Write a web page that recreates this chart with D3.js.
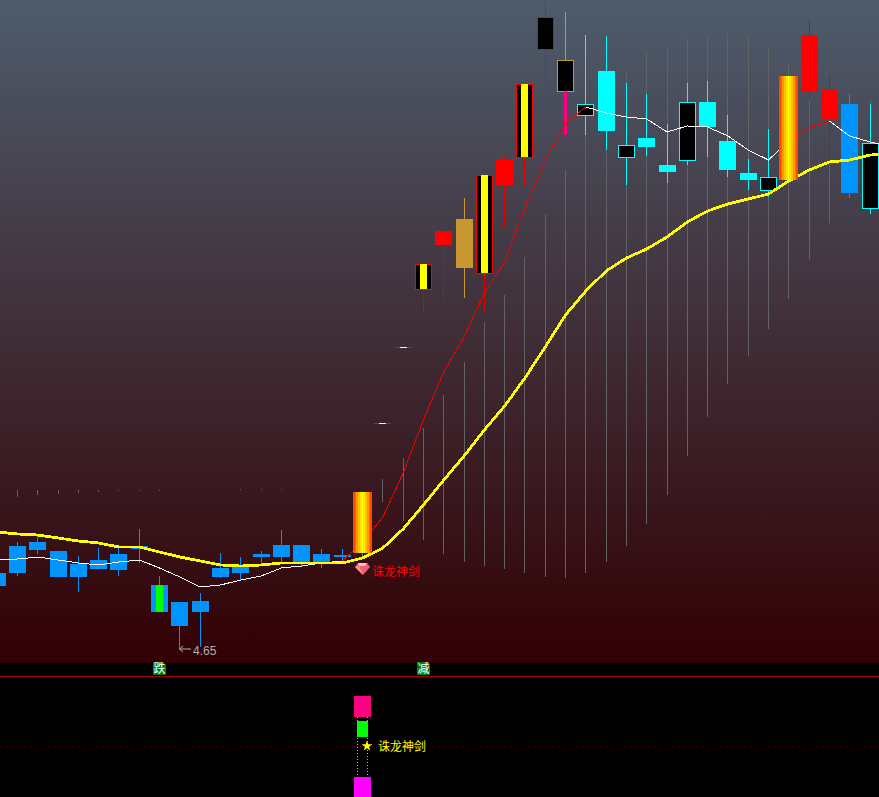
<!DOCTYPE html>
<html>
<head>
<meta charset="utf-8">
<script src="https://d3js.org/d3.v7.min.js"></script>
<style>
  html, body { margin: 0; padding: 0; background: #000; overflow: hidden; }
  svg { display: block; }
</style>
</head>
<body>
<div id="chart"></div>
<script>
// candle values, one entry per bar
const bodyTop = [5.41,5.68,5.72,5.63,5.50,5.54,5.60,5.68,5.29,5.12,5.13,5.46,5.48,5.60,5.69,5.69,5.60,5.59,6.22,6.91,7.67,8.50,8.83,8.95,9.39,9.55,10.30,10.97,10.54,10.10,10.43,9.69,9.76,9.49,10.12,10.12,9.73,9.41,9.37,10.38,10.79,10.24,10.10,9.71];
const bodyBottom = [5.28,5.41,5.64,5.37,5.37,5.45,5.44,5.65,5.02,4.88,5.02,5.37,5.41,5.57,5.57,5.51,5.52,5.57,5.61,6.91,7.67,8.25,8.69,8.46,8.41,9.29,9.57,10.65,10.23,9.99,9.83,9.57,9.67,9.42,9.54,9.87,9.44,9.34,9.24,9.34,10.23,9.95,9.21,9.06];
const highs = [5.41,5.72,5.78,5.63,5.58,5.66,5.66,5.85,5.38,5.12,5.21,5.61,5.57,5.63,5.84,5.69,5.65,5.65,6.22,6.91,7.67,8.50,9.15,9.16,9.39,9.58,10.30,11.13,11.02,10.79,10.78,10.31,10.20,9.90,10.31,10.33,9.99,9.55,9.85,10.38,10.94,10.39,10.20,10.10];
const lows = [5.28,5.38,5.60,5.37,5.22,5.45,5.38,5.51,5.02,4.65,4.67,5.36,5.34,5.49,5.52,5.48,5.46,5.53,5.57,6.91,7.67,8.02,8.11,8.16,8.02,8.86,9.29,9.99,10.23,9.79,9.64,9.29,9.58,9.31,9.49,9.57,9.37,9.24,9.17,9.34,10.15,9.54,9.16,9.00];
const kinds = ["blue","blue","blue","blue","blue","blue","blue","blue","blueGreen","blue","blue","blue","blue","blue","blue","blue","blue","blue","flame","dash","dash","redYellow","red","gold","redYellow","red","redYellow","hollowRed","hollowGold","hollowCyan","cyan","hollowCyan","cyan","cyan","hollowCyan","cyan","cyan","cyan","hollowCyan","flame","red","red","blue","hollowCyan"];

// thin grey bars behind the candles, null = nothing drawn
const greyTop = [null,6.24,6.24,6.24,6.24,6.24,6.24,6.24,6.24,null,null,null,6.25,6.25,6.25,null,null,null,null,6.35,6.56,6.86,7.19,7.52,7.92,8.19,8.57,9.00,9.44,9.79,9.94,10.44,10.61,10.68,10.76,10.78,10.80,10.77,10.65,10.50,10.15,9.54,null,10.14];
const greyBottom = [null,6.17,6.19,6.20,6.21,6.22,6.23,6.23,6.23,null,null,null,6.24,6.24,6.24,null,null,null,null,6.12,5.93,5.74,5.60,5.52,5.48,5.45,5.41,5.37,5.36,5.41,5.52,5.68,5.90,6.19,6.58,6.97,7.30,7.58,7.85,8.15,8.54,8.91,null,10.10];

// moving averages (one extra point runs off the right edge)
const maYellow = [5.82,5.80,5.79,5.76,5.73,5.71,5.67,5.67,5.62,5.57,5.53,5.49,5.48,5.49,5.51,5.51,5.51,5.51,5.56,5.66,5.85,6.09,6.34,6.58,6.84,7.08,7.36,7.67,7.99,8.23,8.43,8.56,8.65,8.77,8.92,9.03,9.10,9.15,9.20,9.33,9.44,9.52,9.54,9.59,9.60];
const maThin = [5.54,5.55,5.57,5.54,5.51,5.49,5.52,5.54,5.46,5.37,5.27,5.29,5.34,5.38,5.46,5.48,5.51,5.53,5.72,5.97,6.41,6.94,7.42,7.77,8.21,8.52,9.07,9.53,9.91,10.07,10.01,9.97,9.95,9.82,9.88,9.87,9.78,9.64,9.54,9.73,9.86,9.93,9.78,9.72,9.68];
const thinWhiteRuns = [[0,17],[29,39],[41,44]];
const thinRedRuns = [[17,29],[39,41]];

const pinkWickIndex = 28;
const pinkWick = [10.23, 9.79];
const lowIndex = 9;
const lowLabel = "4.65";
const signalIndex = 18;
const signalName = "诛龙神剑";
const tagLabels = [{ index: 8, text: "跌" }, { index: 21, text: "减" }];

// lower panel bars
const signalPink = [1.0, 0.58];
const signalGreen = [0.5, 0.18];
const signalMagenta = [-0.62, -1.02];

const width = 879, height = 797;
const priceBottom = 663, panelLine = 676;

const svg = d3.select("#chart").append("svg")
  .attr("width", width)
  .attr("height", height)
  .style("font-family", "'Noto Sans CJK SC', sans-serif");

const x = d3.scaleLinear().domain([0, 43]).range([-2.8, 870]);
const y = d3.scaleLinear().domain([4.51, 11.14]).range([priceBottom, 0]);
const signalY = d3.scaleLinear().domain([1, -1]).range([696, 796]);
const px = i => Math.floor(x(i));

const defs = svg.append("defs");
const bg = defs.append("linearGradient").attr("id", "bg").attr("x1", 0).attr("y1", 0).attr("x2", 0).attr("y2", 1);
bg.append("stop").attr("offset", "0%").attr("stop-color", "#4e5c6c");
bg.append("stop").attr("offset", "100%").attr("stop-color", "#320003");

// stepped orange bands across the strong bars
const flameColors = ["#ff4800", "#ff7000", "#ff9800", "#ffc000", "#ffe800", "#ffff00", "#ffe800", "#ffc000", "#ff9800", "#ff7000", "#ff4800"];
const flame = defs.append("linearGradient").attr("id", "flame").attr("x1", 0).attr("y1", 0).attr("x2", 1).attr("y2", 0);
flameColors.forEach((c, i) => {
  flame.append("stop").attr("offset", i / flameColors.length).attr("stop-color", c);
  flame.append("stop").attr("offset", (i + 1) / flameColors.length).attr("stop-color", c);
});

svg.append("rect").attr("width", width).attr("height", height).attr("fill", "#000");
svg.append("rect").attr("width", width).attr("height", priceBottom).attr("fill", "url(#bg)");

const g = svg.append("g").attr("shape-rendering", "crispEdges");

// grey bars
g.selectAll(".grey")
  .data(d3.range(kinds.length).filter(i => greyTop[i] !== null))
  .join("line")
  .attr("class", "grey")
  .attr("x1", i => px(i) + 0.5).attr("x2", i => px(i) + 0.5)
  .attr("y1", i => y(greyTop[i])).attr("y2", i => y(greyBottom[i]))
  .attr("stroke", "#626262");

const wickColor = {
  blue: "#0094ff", blueGreen: "#0094ff", cyan: "#00ffff", hollowCyan: "#00ffff",
  red: "#e00000", redYellow: "#e00000", hollowRed: "#d81010", gold: "#c89830", hollowGold: "#c89830",
  flame: "#0094ff"
};

// wicks
g.selectAll(".wick")
  .data(d3.range(kinds.length).filter(i => kinds[i] !== "dash"))
  .join("line")
  .attr("class", "wick")
  .attr("x1", i => px(i) + 0.5).attr("x2", i => px(i) + 0.5)
  .attr("y1", i => y(highs[i])).attr("y2", i => y(lows[i]))
  .attr("stroke", i => wickColor[kinds[i]]);

const solidFill = { blue: "#0094ff", blueGreen: "#0094ff", cyan: "#00ffff", red: "#ff0000", gold: "#c89830" };
const hollowStroke = { hollowCyan: "#00ffff", hollowRed: "#ff0000", hollowGold: "#c89830", redYellow: "#ff0000" };

// solid bodies
g.selectAll(".solid")
  .data(d3.range(kinds.length).filter(i => solidFill[kinds[i]]))
  .join("rect")
  .attr("class", "solid")
  .attr("x", i => px(i) - 8).attr("width", 17)
  .attr("y", i => y(bodyTop[i])).attr("height", i => y(bodyBottom[i]) - y(bodyTop[i]))
  .attr("fill", i => solidFill[kinds[i]]);

// hollow bodies
g.selectAll(".hollow")
  .data(d3.range(kinds.length).filter(i => hollowStroke[kinds[i]]))
  .join("rect")
  .attr("class", "hollow")
  .attr("x", i => px(i) - 7.5).attr("width", 16)
  .attr("y", i => Math.round(y(bodyTop[i])) + 0.5).attr("height", i => y(bodyBottom[i]) - y(bodyTop[i]))
  .attr("fill", "#000")
  .attr("stroke", i => hollowStroke[kinds[i]]);

// coloured core inside some bodies
g.selectAll(".core")
  .data(d3.range(kinds.length).filter(i => kinds[i] === "redYellow" || kinds[i] === "blueGreen"))
  .join("rect")
  .attr("class", "core")
  .attr("x", i => px(i) - 3).attr("width", 7)
  .attr("y", i => y(bodyTop[i])).attr("height", i => y(bodyBottom[i]) - y(bodyTop[i]))
  .attr("fill", i => kinds[i] === "redYellow" ? "#ffff00" : "#00ff00");

// one-price days
const dashes = d3.range(kinds.length).filter(i => kinds[i] === "dash");
g.selectAll(".dash")
  .data(dashes)
  .join("line")
  .attr("class", "dash")
  .attr("x1", i => px(i) - 8).attr("x2", i => px(i) + 9)
  .attr("y1", i => y(bodyTop[i]) + 0.5).attr("y2", i => y(bodyTop[i]) + 0.5)
  .attr("stroke", "#e01010");
g.selectAll(".dashCore")
  .data(dashes)
  .join("line")
  .attr("class", "dashCore")
  .attr("x1", i => px(i) - 3).attr("x2", i => px(i) + 4)
  .attr("y1", i => y(bodyTop[i]) + 0.5).attr("y2", i => y(bodyTop[i]) + 0.5)
  .attr("stroke", "#ffff60");

g.append("rect")
  .attr("x", px(pinkWickIndex) - 1).attr("width", 3)
  .attr("y", y(pinkWick[0])).attr("height", y(pinkWick[1]) - y(pinkWick[0]))
  .attr("fill", "#ff0080");

// moving averages
const line = d3.line().x(i => x(i)).y(i => y(maThin[i]));
const drawRuns = (runs, color) => {
  runs.forEach(([a, b]) => {
    g.append("path")
      .attr("d", line(d3.range(a, b + 1)))
      .attr("fill", "none")
      .attr("stroke", color)
      .attr("stroke-width", 1);
  });
};
drawRuns(thinRedRuns, "#f00000");
drawRuns(thinWhiteRuns, "#ffffff");

g.append("path")
  .datum(maYellow)
  .attr("d", d3.line().x((d, i) => x(i)).y(d => y(d)))
  .attr("fill", "none")
  .attr("stroke", "#ffff00")
  .attr("stroke-width", 2.8);

// strong bars sit over the averages
g.selectAll(".flame")
  .data(d3.range(kinds.length).filter(i => kinds[i] === "flame"))
  .join("rect")
  .attr("class", "flame")
  .attr("x", i => px(i) - 9).attr("width", 19)
  .attr("y", i => y(bodyTop[i])).attr("height", i => y(bodyBottom[i]) - y(bodyTop[i]))
  .attr("fill", "url(#flame)");

// low price note
const lowX = px(lowIndex), lowY = y(lows[lowIndex]);
const note = svg.append("g").attr("stroke", "#b0b0b0").attr("fill", "none");
note.append("path").attr("d", `M${lowX + 12},${lowY}H${lowX + 0.5}M${lowX + 4},${lowY - 3}L${lowX + 0.5},${lowY}L${lowX + 4},${lowY + 3}`);
svg.append("text")
  .attr("x", lowX + 14).attr("y", lowY + 5.5)
  .attr("fill", "#b0b0b0")
  .style("font-family", "'Liberation Sans', sans-serif")
  .style("font-size", "12px")
  .text(lowLabel);

// gem and signal name under the breakout bar
const gemX = px(signalIndex), gemY = 568;
const gem = svg.append("g").attr("transform", `translate(${gemX},${gemY})`);
gem.append("path").attr("d", "M-4,-5H5L8,-1L1,7L-7,-1Z").attr("fill", "#f06070");
gem.append("path").attr("d", "M-4,-5H5L3,-2H-3Z").attr("fill", "#ffc0c0");
gem.append("path").attr("d", "M-7,-1L-3,-2L1,7Z").attr("fill", "#ff9098");
svg.append("text")
  .attr("x", gemX + 10).attr("y", 576)
  .attr("fill", "#ff0000")
  .style("font-size", "12px")
  .text(signalName);

// lower panel
const tags = svg.append("g");
tagLabels.forEach(t => {
  const cx = px(t.index);
  tags.append("path")
    .attr("d", `M${cx - 6},662H${cx + 4}L${cx + 7},665V675H${cx - 6}Z`)
    .attr("fill", "#008000");
  tags.append("text")
    .attr("x", cx + 0.5).attr("y", 673)
    .attr("text-anchor", "middle")
    .attr("fill", "#fff")
    .style("font-size", "12px")
    .text(t.text);
});

const panel = svg.append("g").attr("shape-rendering", "crispEdges");
panel.append("line").attr("x1", 0).attr("x2", width).attr("y1", panelLine + 0.5).attr("y2", panelLine + 0.5).attr("stroke", "#a80000");
panel.append("line").attr("x1", 0).attr("x2", width)
  .attr("y1", signalY(0) + 0.5).attr("y2", signalY(0) + 0.5)
  .attr("stroke", "#700000").attr("stroke-dasharray", "1,5");

const sx = px(signalIndex);
[-5, 5].forEach(dx => {
  panel.append("line")
    .attr("x1", sx + dx + 0.5).attr("x2", sx + dx + 0.5)
    .attr("y1", signalY(signalPink[1])).attr("y2", signalY(signalMagenta[0]))
    .attr("stroke", "#ff90a8").attr("stroke-dasharray", "1,2");
});
panel.append("rect").attr("x", sx - 8).attr("width", 17)
  .attr("y", signalY(signalPink[0])).attr("height", signalY(signalPink[1]) - signalY(signalPink[0])).attr("fill", "#ff0080");
panel.append("rect").attr("x", sx - 5).attr("width", 11)
  .attr("y", signalY(signalGreen[0])).attr("height", signalY(signalGreen[1]) - signalY(signalGreen[0])).attr("fill", "#00ff00");
panel.append("rect").attr("x", sx - 8).attr("width", 17)
  .attr("y", signalY(signalMagenta[0])).attr("height", signalY(signalMagenta[1]) - signalY(signalMagenta[0])).attr("fill", "#ff00ff");

svg.append("path")
  .attr("d", d3.symbol(d3.symbolStar, 36)())
  .attr("transform", `translate(${sx + 5},${signalY(0)})`)
  .attr("fill", "#ffff00");
svg.append("text")
  .attr("x", sx + 16).attr("y", signalY(0) + 4.5)
  .attr("fill", "#ffff00")
  .style("font-size", "12px")
  .text(signalName);
</script>
</body>
</html>
